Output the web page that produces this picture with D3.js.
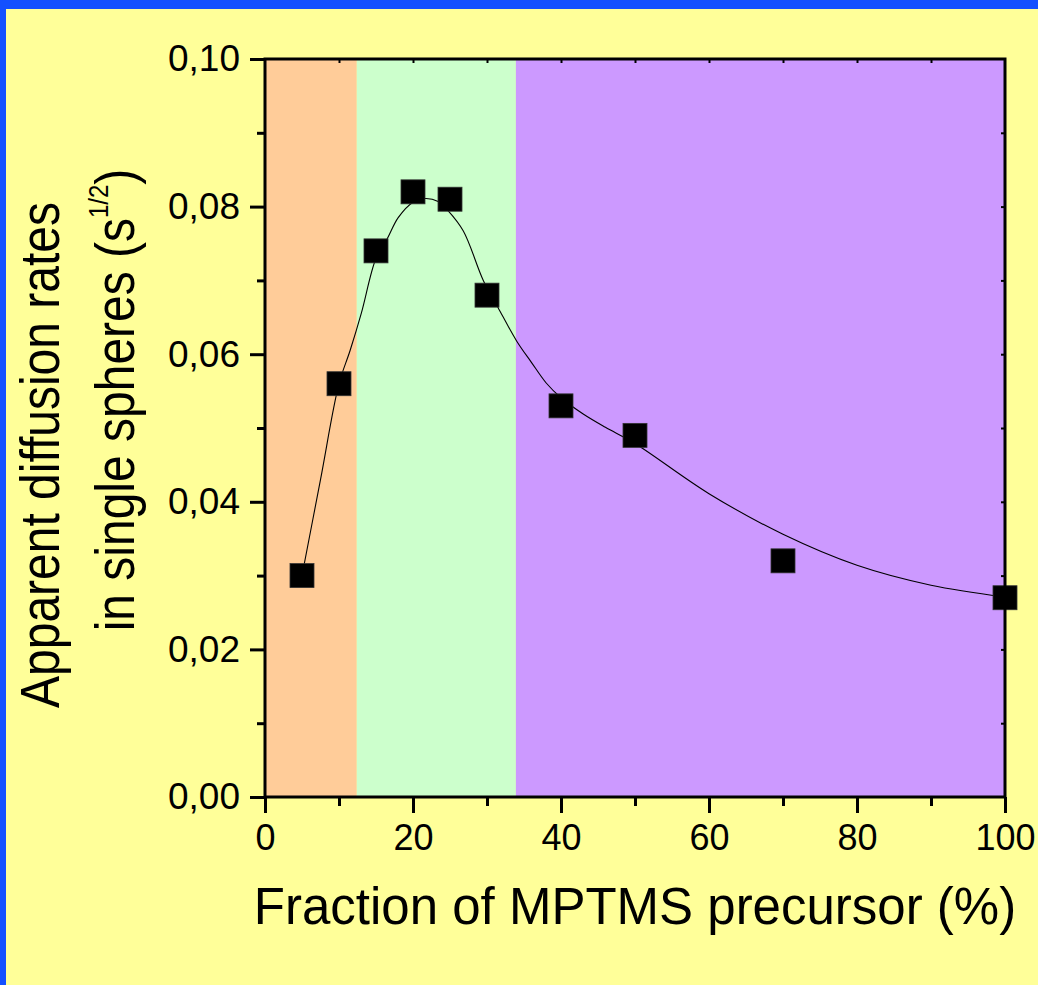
<!DOCTYPE html>
<html><head><meta charset="utf-8">
<script src="https://cdn.jsdelivr.net/npm/d3@7"></script>
<style>html,body{margin:0;padding:0;background:#ffff99;}svg{display:block;}</style>
</head><body>
<script>
// Data
const fractions = [5, 10, 15, 20, 25, 30, 40, 50, 70, 100];
const rates = [0.030, 0.056, 0.074, 0.082, 0.081, 0.068, 0.053, 0.049, 0.032, 0.027];
const fitX = [5, 7.5, 10, 11.5, 13, 15, 16.5, 18, 20, 21.6, 23.4, 24.7, 26.8, 29.5, 31.5, 34, 36, 38, 40, 43, 46, 50, 60, 70, 80, 90, 100];
const fitY = [0.0300, 0.0430, 0.0560, 0.0605, 0.0655, 0.0730, 0.0756, 0.0785, 0.0806, 0.0811, 0.0807, 0.0795, 0.0767, 0.0700, 0.0663, 0.0618, 0.0589, 0.0561, 0.0541, 0.0519, 0.0501, 0.0479, 0.0411, 0.0356, 0.0314, 0.0287, 0.0271];
const bandStarts = [0, 12.4, 33.9];
const bandEnds = [12.4, 33.9, 100];
const bandColors = ["#ffcc99", "#ccffcc", "#cc99ff"];
const xTicks = [0, 20, 40, 60, 80, 100];
const yTicks = [0, 0.02, 0.04, 0.06, 0.08, 0.10];
const xTitle = "Fraction of MPTMS precursor (%)";
const yTitle1 = "Apparent diffusion rates";
const yTitle2 = "in single spheres (s";

const W = 1038, H = 985;
const svg = d3.select("body").append("svg").attr("width", W).attr("height", H);
svg.append("rect").attr("width", W).attr("height", H).attr("fill", "#ffff99");
svg.append("rect").attr("x", 0).attr("y", 0).attr("width", W).attr("height", 9).attr("fill", "#1450ff");
svg.append("rect").attr("x", 0).attr("y", 0).attr("width", 6).attr("height", H).attr("fill", "#1450ff");

const L = 265, R = 1005, T = 59, B = 797;
const x = d3.scaleLinear().domain([0, 100]).range([L, R]);
const y = d3.scaleLinear().domain([0, 0.10]).range([B, T]);

// Bands
svg.selectAll("rect.band").data(bandStarts).enter().append("rect")
  .attr("x", (d) => x(d)).attr("y", T)
  .attr("width", (d, i) => x(bandEnds[i]) - x(d)).attr("height", B - T)
  .attr("fill", (d, i) => bandColors[i]);

const font = "'Liberation Sans', Arial, Helvetica, sans-serif";

// Fit curve
const line = d3.line().x((d, i) => x(fitX[i])).y((d) => y(d)).curve(d3.curveCatmullRom.alpha(0.5));
svg.append("path").attr("d", line(fitY)).attr("fill", "none").attr("stroke", "#000").attr("stroke-width", 1.1);

// Points
svg.selectAll("rect.pt").data(fractions).enter().append("rect")
  .attr("x", (d) => x(d) - 12).attr("y", (d, i) => y(rates[i]) - 12)
  .attr("width", 24).attr("height", 24).attr("fill", "#000")
  .attr("stroke", "#333").attr("stroke-width", 0.8);

// Axes
const xMinor = d3.range(10, 100, 20);
const yMinor = d3.range(0.01, 0.1, 0.02);
const xAxis = d3.axisBottom(x).tickValues(xTicks).tickFormat(d3.format("d")).tickSize(16).tickPadding(11);
const gx = svg.append("g").attr("transform", `translate(0,${B})`).call(xAxis);
gx.select(".domain").remove();
gx.selectAll("line").attr("stroke-width", 3);
gx.selectAll("text").attr("font-family", font).attr("font-size", 36).attr("fill", "#000");
const xAxisMinor = d3.axisBottom(x).tickValues(xMinor).tickFormat("").tickSize(9);
const gxm = svg.append("g").attr("transform", `translate(0,${B})`).call(xAxisMinor);
gxm.select(".domain").remove();
gxm.selectAll("line").attr("stroke-width", 3);

const fmtY = (d) => d3.format(".2f")(d).replace(".", ",");
const yAxis = d3.axisLeft(y).tickValues(yTicks).tickFormat(fmtY).tickSize(15).tickPadding(10);
const gy = svg.append("g").attr("transform", `translate(${L},0)`).call(yAxis);
gy.select(".domain").remove();
gy.selectAll("line").attr("stroke-width", 3);
gy.selectAll("text").attr("font-family", font).attr("font-size", 37).attr("fill", "#000");
const yAxisMinor = d3.axisLeft(y).tickValues(yMinor).tickFormat("").tickSize(8);
const gym = svg.append("g").attr("transform", `translate(${L},0)`).call(yAxisMinor);
gym.select(".domain").remove();
gym.selectAll("line").attr("stroke-width", 3);

// Top and right small inner ticks
const topAx = d3.axisBottom(x).tickValues(d3.range(10, 100, 10)).tickFormat("").tickSize(4);
const gt = svg.append("g").attr("transform", `translate(0,${T})`).call(topAx);
gt.select(".domain").remove(); gt.selectAll("line").attr("stroke-width", 2);
const rightAx = d3.axisLeft(y).tickValues(d3.range(0.01, 0.1, 0.01)).tickFormat("").tickSize(4);
const gr = svg.append("g").attr("transform", `translate(${R},0)`).call(rightAx);
gr.select(".domain").remove(); gr.selectAll("line").attr("stroke-width", 2);

// Frame
svg.append("rect").attr("x", L).attr("y", T).attr("width", R - L).attr("height", B - T)
  .attr("fill", "none").attr("stroke", "#000").attr("stroke-width", 3);

// Titles
svg.append("text").attr("x", (L + R) / 2).attr("y", 924).attr("text-anchor", "middle")
  .attr("font-family", font).attr("font-size", 51).attr("fill", "#000").text(xTitle);

svg.append("text").attr("transform", "translate(59,455) rotate(-90) scale(1,1.17)").attr("text-anchor", "middle")
  .attr("font-family", font).attr("font-size", 48).attr("fill", "#000").text(yTitle1);
const t2 = svg.append("text").attr("transform", "translate(134,400) rotate(-90) scale(1,1.17)").attr("text-anchor", "middle")
  .attr("font-family", font).attr("font-size", 48).attr("fill", "#000");
t2.append("tspan").text(yTitle2);
t2.append("tspan").attr("font-size", 24).attr("dy", -22).text("1/2");
t2.append("tspan").attr("dy", 22).text(")");
</script>
</body></html>
